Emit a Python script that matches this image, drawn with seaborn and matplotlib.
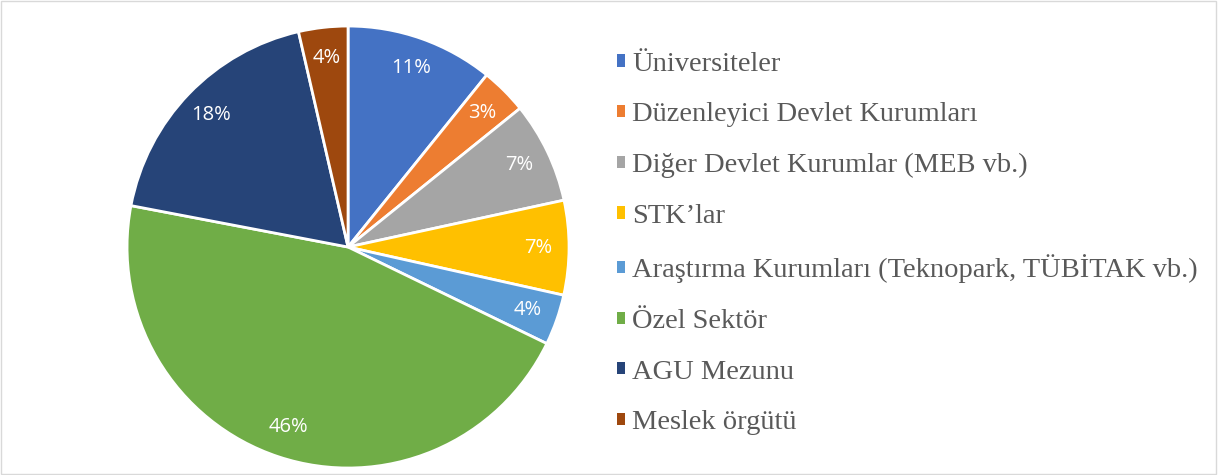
import matplotlib
matplotlib.use("Agg")
import matplotlib.pyplot as plt
import matplotlib.patches as mpatches
import seaborn as sns

# Data (slice sizes estimated from angles)
categories = [
    "Üniversiteler",
    "Düzenleyici Devlet Kurumları",
    "Diğer Devlet Kurumlar (MEB vb.)",
    "STK’lar",
    "Araştırma Kurumları (Teknopark, TÜBİTAK vb.)",
    "Özel Sektör",
    "AGU Mezunu",
    "Meslek örgütü",
]
shares = [10.8, 3.4, 7.4, 6.9, 3.7, 45.8, 18.4, 3.6]
colors = sns.color_palette(["#4472C4", "#ED7D31", "#A5A5A5", "#FFC000",
                            "#5B9BD5", "#70AD47", "#264478", "#9E480E"])

sns.set_theme(style="white")
plt.rcParams["font.family"] = ["Liberation Sans", "DejaVu Sans"]

fig = plt.figure(figsize=(12.18, 4.75), dpi=100)
fig.patch.set_facecolor("white")
# thin grey frame round the chart
fig.add_artist(mpatches.Rectangle((0.001, 0.002), 0.997, 0.995, transform=fig.transFigure,
                                  fill=False, edgecolor="#D9D9D9", linewidth=1))

ax = fig.add_axes([0.1043, 0.0147, 0.3629, 0.9305])
wedges, texts, autotexts = ax.pie(
    shares, colors=colors, startangle=90, counterclock=False,
    autopct=lambda p: f"{p:.0f}%", pctdistance=0.86,
    wedgeprops=dict(edgecolor="white", linewidth=2),
    textprops=dict(color="white", fontsize=14.5, family="Open Sans"),
)
ax.set_xlim(-1, 1)
ax.set_ylim(-1, 1)
ax.set_aspect("equal")

handles = [mpatches.Patch(facecolor=c, edgecolor="none") for c in colors]
leg = fig.legend(handles, categories, loc="upper left", bbox_to_anchor=(0.5066, 0.891),
                 frameon=False, borderpad=0, borderaxespad=0,
                 handlelength=0.28, handleheight=0.28, handletextpad=0.25,
                 labelspacing=0.9, prop=dict(family="Liberation Serif", size=20.5))
for t in leg.get_texts():
    t.set_color("#595959")

fig.savefig("out.png", dpi=100)
